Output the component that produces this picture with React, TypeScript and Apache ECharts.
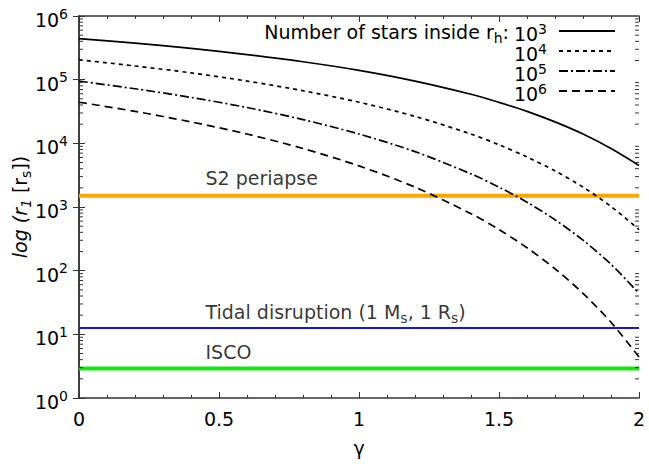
import React, { useEffect, useRef } from "react";
import * as echarts from "echarts";

// gamma sample positions
const gamma = [0, 0.2, 0.4, 0.6, 0.8, 1.0, 1.2, 1.4, 1.5, 1.6, 1.7, 1.8, 1.9, 2.0];
// r_1 in r_s for each number of stars inside r_h
const stars1e3 = [442000, 375000, 310000, 248000, 191000, 140000, 95000, 59000, 44000, 31800, 21700, 14000, 8300, 4500];
const stars1e4 = [205000, 164000, 128000, 95000, 67000, 44200, 26500, 14000, 9500, 6100, 3700, 2050, 1020, 442];
const stars1e5 = [95000, 72000, 52700, 36500, 23600, 14000, 7400, 3310, 2050, 1190, 630, 301, 126, 44];
const stars1e6 = [44200, 31800, 21700, 14000, 8300, 4420, 2050, 785, 442, 229, 107, 44, 15.5, 4.4];
const starExponents = ["3", "4", "5", "6"];

// reference radii
const refLabels = ["S2 periapse", "Tidal disruption (1 M{s|s}, 1 R{s|s})", "ISCO"];
const refValues = [1500, 12.6, 2.9];
const refLabelGamma = 0.45;

// axes
const xMin = 0;
const xMax = 2;
const xInterval = 0.5;
const yMin = 1;
const yMax = 1e6;
const yDecades = [0, 1, 2, 3, 4, 5];
const yMantissas = [2, 3, 4, 5, 6, 7, 8, 9];

const FONT = "'DejaVu Sans', 'Liberation Sans', Arial, sans-serif";
const FS = 19;
const FS_SMALL = 14;

export default function App() {
  const ref = useRef<HTMLDivElement>(null);

  useEffect(() => {
    const chart = echarts.init(ref.current!, null, { renderer: "svg" });

    const curveData = [stars1e3, stars1e4, stars1e5, stars1e6];
    const dashes: any[] = ["solid", [4, 4], [9, 3, 2, 3], [8, 5]];
    const refColors = ["#ffa500", "#1515e6", "#14e614"];
    const refWidths = [4, 2, 4];
    const refOffsets = [-18, -16, -17];

    const minorTicks: number[][] = [];
    yDecades.forEach((d) => yMantissas.forEach((m) => minorTicks.push([0, m * Math.pow(10, d)])));

    const supRich = {
      b: { fontSize: FS, lineHeight: FS, padding: [8, 0, 0, 0], color: "#000", fontFamily: FONT },
      e: { fontSize: FS_SMALL, lineHeight: FS_SMALL, verticalAlign: "top", color: "#000", fontFamily: FONT },
    };
    const legendRich = {
      b: { fontSize: FS, lineHeight: FS, padding: [5, 0, 0, 0], color: "#000", fontFamily: FONT },
      e: { fontSize: FS_SMALL, lineHeight: FS_SMALL, verticalAlign: "top", color: "#000", fontFamily: FONT },
    };
    const subRich = {
      t: { fontSize: FS, lineHeight: FS, verticalAlign: "top", color: "#000", fontFamily: FONT },
      s: { fontSize: FS_SMALL, lineHeight: FS_SMALL, padding: [9, 0, 0, 0], verticalAlign: "top", color: "#000", fontFamily: FONT },
    };

    const series: any[] = [];
    curveData.forEach((arr, k) => {
      series.push({
        type: "line",
        name: starExponents[k],
        data: gamma.map((g, i) => [g, arr[i]]),
        symbol: "none",
        smooth: 0.3,
        lineStyle: { color: "#000", width: 1.7, type: dashes[k] },
        itemStyle: { color: "#000" },
        z: 4,
      });
    });
    refValues.forEach((v, k) => {
      series.push({
        type: "line",
        name: "ref" + k,
        data: [
          [xMin, v],
          [xMax, v],
        ],
        symbol: "none",
        lineStyle: { color: refColors[k], width: refWidths[k] },
        z: 3,
      });
      series.push({
        type: "scatter",
        name: "lab" + k,
        data: [[refLabelGamma, v]],
        symbolSize: 1,
        itemStyle: { color: "rgba(0,0,0,0)" },
        label: {
          show: true,
          position: "right",
          distance: 0,
          offset: [0, refOffsets[k]],
          formatter: refLabels[k].replace(/^([^{]*)/, "{t|$1}").replace(/\}([^{]+)/g, "}{t|$1}"),
          rich: subRich,
        },
        silent: true,
      });
    });
    series.push({
      type: "custom",
      name: "minor",
      data: minorTicks,
      clip: false,
      silent: true,
      z: 6,
      renderItem: (params: any, api: any) => {
        const v = api.value(1);
        const pL = api.coord([xMin, v]);
        const pR = api.coord([xMax, v]);
        return {
          type: "group",
          children: [
            { type: "line", shape: { x1: pL[0], y1: pL[1], x2: pL[0] + 4, y2: pL[1] }, style: { stroke: "#333", lineWidth: 1 } },
            { type: "line", shape: { x1: pR[0] - 4, y1: pR[1], x2: pR[0], y2: pR[1] }, style: { stroke: "#333", lineWidth: 1 } },
          ],
        };
      },
    });

    const axisLine = { show: true, lineStyle: { color: "#333", width: 1.5 } };
    const yLabel = (v: number) => `{b|10}{e|${Math.round(Math.log10(v))}}`;

    chart.setOption({
      animation: false,
      backgroundColor: "#fff",
      grid: { left: 79, right: 10, top: 16, bottom: 69, containLabel: false, outerBoundsMode: "none" },
      xAxis: [
        {
          type: "value",
          min: xMin,
          max: xMax,
          interval: xInterval,
          position: "bottom",
          axisLine,
          axisTick: { show: true, inside: true, length: 6, lineStyle: { color: "#333", width: 1 } },
          minorTick: { show: true, splitNumber: 5, length: 3, lineStyle: { color: "#333", width: 1 } },
          splitLine: { show: false },
          axisLabel: { color: "#000", fontSize: FS, fontFamily: FONT, margin: 11 },
          name: "γ",
          nameLocation: "middle",
          nameGap: 40,
          nameTextStyle: { color: "#000", fontSize: FS, fontFamily: FONT },
        },
        {
          type: "value",
          min: xMin,
          max: xMax,
          interval: xInterval,
          position: "top",
          axisLine,
          axisTick: { show: true, inside: true, length: 6, lineStyle: { color: "#333", width: 1 } },
          minorTick: { show: true, splitNumber: 5, length: 3, lineStyle: { color: "#333", width: 1 } },
          splitLine: { show: false },
          axisLabel: { show: false },
        },
      ],
      yAxis: [
        {
          type: "log",
          logBase: 10,
          min: yMin,
          max: yMax,
          position: "left",
          axisLine,
          axisTick: { show: true, inside: true, length: 6, lineStyle: { color: "#333", width: 1 } },
          splitLine: { show: false },
          axisLabel: { formatter: yLabel, rich: supRich, margin: 11 },
          name: "{i|log (r}{is|1}{n| [r}{s|s}{n|])}",
          nameLocation: "middle",
          nameGap: 50,
          nameMoveOverlap: false,
          nameRotate: 90,
          nameTextStyle: {
            rich: {
              i: { fontSize: FS, fontStyle: "italic", color: "#000", fontFamily: FONT, lineHeight: FS, verticalAlign: "top" },
              is: { fontSize: FS_SMALL, fontStyle: "italic", color: "#000", fontFamily: FONT, lineHeight: FS_SMALL, padding: [9, 0, 0, 0], verticalAlign: "top" },
              n: { fontSize: FS, color: "#000", fontFamily: FONT, lineHeight: FS, verticalAlign: "top" },
              s: { fontSize: FS_SMALL, color: "#000", fontFamily: FONT, lineHeight: FS_SMALL, padding: [9, 0, 0, 0], verticalAlign: "top" },
            },
          },
        },
        {
          type: "log",
          logBase: 10,
          min: yMin,
          max: yMax,
          position: "right",
          axisLine,
          axisTick: { show: true, inside: true, length: 6, lineStyle: { color: "#333", width: 1 } },
          splitLine: { show: false },
          axisLabel: { show: false },
        },
      ],
      legend: {
        data: starExponents,
        orient: "vertical",
        right: 33,
        top: 19,
        align: "right",
        itemWidth: 56,
        itemHeight: 12,
        itemGap: -4,
        padding: 0,
        itemStyle: { opacity: 0 },
        formatter: (name: string) => `{b|10}{e|${name}}`,
        textStyle: { rich: legendRich, padding: [0, 7, 0, 0] },
        selectedMode: false,
      },
      graphic: [
        {
          type: "text",
          right: 140,
          top: 22,
          style: {
            text: "{t|Number of stars inside r}{s|h}{t|:}",
            rich: subRich,
            fill: "#000",
          },
        },
      ],
      series,
    });

    return () => chart.dispose();
  }, []);

  return <div ref={ref} style={{ position: "absolute", left: 0, top: 0, width: 649, height: 467 }} />;
}
